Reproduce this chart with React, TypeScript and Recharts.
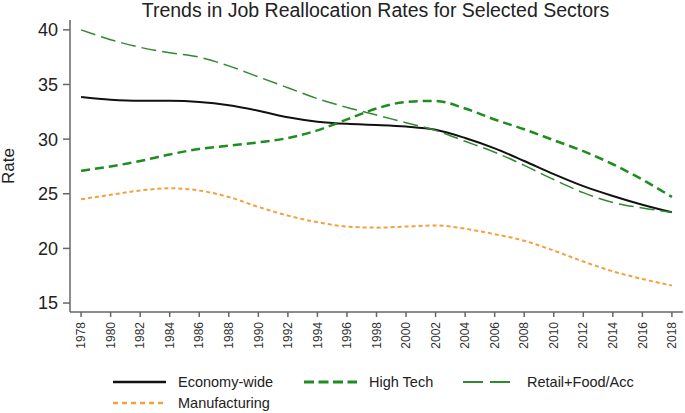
import { LineChart, Line, XAxis, YAxis } from "recharts";

const YEARS = [1978, 1980, 1982, 1984, 1986, 1988, 1990, 1992, 1994, 1996, 1998, 2000, 2002, 2004, 2006, 2008, 2010, 2012, 2014, 2016, 2018];
const ECONOMY = [33.85, 33.6, 33.5, 33.5, 33.4, 33.1, 32.6, 32.0, 31.6, 31.4, 31.3, 31.15, 30.85, 30.1, 29.15, 28.0, 26.8, 25.7, 24.8, 24.0, 23.3];
const HIGH_TECH = [27.1, 27.5, 28.0, 28.6, 29.1, 29.4, 29.7, 30.1, 30.8, 31.8, 32.8, 33.4, 33.5, 32.8, 31.8, 30.9, 29.9, 28.9, 27.7, 26.3, 24.7];
const RETAIL = [40.0, 39.1, 38.4, 37.9, 37.5, 36.7, 35.7, 34.7, 33.7, 32.9, 32.2, 31.5, 30.8, 29.8, 28.8, 27.6, 26.3, 25.1, 24.2, 23.7, 23.3];
const MANUFACTURING = [24.5, 24.9, 25.3, 25.5, 25.3, 24.7, 23.8, 23.0, 22.4, 22.0, 21.9, 22.0, 22.1, 21.8, 21.3, 20.7, 19.8, 18.8, 17.9, 17.2, 16.6];
const Y_TICKS = [15, 20, 25, 30, 35, 40];

const data = YEARS.map((year, i) => ({
  year,
  economy: ECONOMY[i],
  highTech: HIGH_TECH[i],
  retail: RETAIL[i],
  manufacturing: MANUFACTURING[i],
}));

const FONT = "'Liberation Sans', Arial, sans-serif";
const AXIS_COLOR = "#666";

const SERIES = [
  { key: "economy", name: "Economy-wide", color: "#111", width: 2, dash: undefined as string | undefined, legendDash: undefined as string | undefined },
  { key: "highTech", name: "High Tech", color: "#1e8c1e", width: 2.5, dash: "9 5", legendDash: "10 4.5" },
  { key: "retail", name: "Retail+Food/Acc", color: "#2f8a2f", width: 1.5, dash: "15 6", legendDash: "20 7" },
  { key: "manufacturing", name: "Manufacturing", color: "#f4a040", width: 2, dash: "4 3", legendDash: "5 4" },
];

const XTick = (props: any) => {
  const { x, y, payload } = props;
  return (
    <g transform={`translate(${x},${y + 3})`}>
      <text transform="rotate(-90)" x={0} y={0} dy="0.35em" textAnchor="end" fill="#333" fontSize={12} fontFamily={FONT}>
        {payload.value}
      </text>
    </g>
  );
};

const LegendItem = ({ s, left, top, len }: { s: (typeof SERIES)[number]; left: number; top: number; len: number }) => (
  <div style={{ position: "absolute", left, top, height: 20, display: "flex", alignItems: "center" }}>
    <svg width={len} height={6} style={{ marginRight: 12 }}>
      <line x1={0} y1={3} x2={len} y2={3} stroke={s.color} strokeWidth={s.width + 0.3} strokeDasharray={s.legendDash} />
    </svg>
    <span style={{ fontSize: 14.5, fontFamily: FONT, color: "#222", lineHeight: "20px" }}>{s.name}</span>
  </div>
);

export default function App() {
  return (
    <div style={{ position: "absolute", left: 0, top: 0, width: 685, height: 413, background: "#fff" }}>
      <div
        style={{
          position: "absolute",
          left: 0,
          width: 685,
          top: 0,
          height: 22,
          lineHeight: "21px",
          textAlign: "center",
          paddingLeft: 66,
          boxSizing: "border-box",
          fontSize: 19.5,
          fontFamily: FONT,
          color: "#222",
          whiteSpace: "nowrap",
        }}
      >
        Trends in Job Reallocation Rates for Selected Sectors
      </div>
      <div
        style={{
          position: "absolute",
          left: -9,
          top: 156,
          transform: "rotate(-90deg)",
          fontSize: 17,
          fontFamily: FONT,
          color: "#222",
        }}
      >
        Rate
      </div>
      <LineChart width={685} height={413} data={data} margin={{ top: 20, right: 2, left: 0, bottom: 0 }}>
        <XAxis
          dataKey="year"
          type="number"
          domain={[1977.25, 2018.75]}
          ticks={YEARS}
          interval={0}
          height={101}
          stroke={AXIS_COLOR}
          strokeWidth={1.5}
          tickSize={5}
          tick={<XTick />}
        />
        <YAxis
          width={70}
          domain={[14.18, 40.9]}
          ticks={Y_TICKS}
          allowDataOverflow
          stroke={AXIS_COLOR}
          strokeWidth={1.5}
          tickSize={7}
          tickMargin={5}
          tick={{ fill: "#222", fontSize: 18, fontFamily: FONT }}
        />
        {SERIES.map((s) => (
          <Line
            key={s.key}
            dataKey={s.key}
            name={s.name}
            type="monotone"
            stroke={s.color}
            strokeWidth={s.width}
            strokeDasharray={s.dash}
            dot={false}
            isAnimationActive={false}
          />
        ))}
      </LineChart>
      <LegendItem s={SERIES[0]} left={113} top={372} len={53} />
      <LegendItem s={SERIES[1]} left={304} top={372} len={53} />
      <LegendItem s={SERIES[2]} left={463} top={372} len={52} />
      <LegendItem s={SERIES[3]} left={113} top={393} len={53} />
    </div>
  );
}
